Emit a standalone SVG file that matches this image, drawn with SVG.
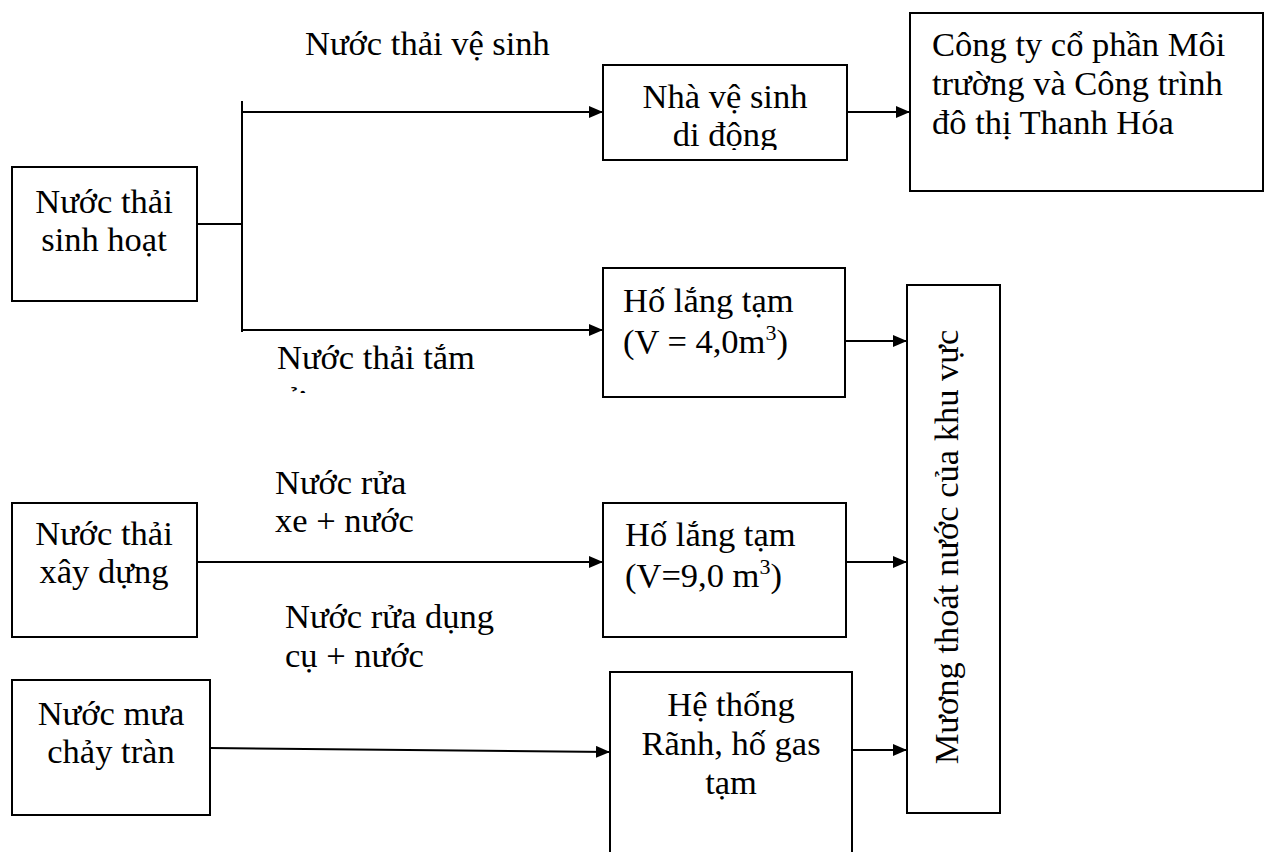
<svg xmlns="http://www.w3.org/2000/svg" width="1265" height="852" viewBox="0 0 1265 852">
<style>
.box{fill:#fff;stroke:#000;stroke-width:2}
.ln{fill:none;stroke:#000;stroke-width:2}
.ar{fill:none;stroke:#000;stroke-width:2;marker-end:url(#ah)}
text{font-family:"Liberation Serif","Times New Roman",serif;font-size:34.5px;fill:#000}
.c{text-anchor:middle}
.sup{font-size:22px}
</style>
<defs>
<marker id="ah" viewBox="0 0 14 12" refX="14" refY="6" markerWidth="14" markerHeight="12" markerUnits="userSpaceOnUse" orient="auto">
<path d="M0,0 L14,6 L0,12 z" fill="#000"/>
</marker>
<clipPath id="clipNVS"><rect x="600" y="60" width="250" height="90"/></clipPath>
<clipPath id="clipTam"><rect x="260" y="330" width="300" height="63"/></clipPath>
</defs>
<rect width="1265" height="852" fill="#fff"/>

<g id="connectors">
<line class="ln" x1="197" y1="224" x2="242" y2="224"/>
<line class="ln" x1="242" y1="101" x2="242" y2="332"/>
<line class="ar" x1="243" y1="112" x2="603" y2="112"/>
<line class="ar" x1="243" y1="330" x2="603" y2="330"/>
<line class="ar" x1="847" y1="112" x2="910" y2="112"/>
<line class="ar" x1="845" y1="341" x2="907" y2="341"/>
<line class="ar" x1="197" y1="562" x2="603" y2="562"/>
<line class="ar" x1="846" y1="562" x2="907" y2="562"/>
<line class="ar" x1="210" y1="748" x2="610" y2="752"/>
<line class="ar" x1="852" y1="750" x2="907" y2="750"/>
</g>

<g id="label-ve-sinh"><text x="305" y="55">Nước thải vệ sinh</text></g>
<g id="label-tam" clip-path="url(#clipTam)"><text x="277" y="369">Nước thải tắm</text><text x="274" y="410">rửa</text></g>
<g id="label-rua-xe"><text x="275" y="494">Nước rửa</text><text x="275" y="532">xe + nước</text></g>
<g id="label-dung-cu"><text x="285" y="628">Nước rửa dụng</text><text x="285" y="667">cụ + nước</text></g>

<g id="n-sinh-hoat">
<rect class="box" x="12" y="167" width="185" height="134"/>
<text class="c" x="104" y="213">Nước thải</text>
<text class="c" x="104" y="251">sinh hoạt</text>
</g>

<g id="n-nha-ve-sinh">
<rect class="box" x="603" y="65" width="244" height="95"/>
<g clip-path="url(#clipNVS)">
<text class="c" x="725" y="108">Nhà vệ sinh</text>
<text class="c" x="725" y="146">di động</text>
</g>
</g>

<g id="n-cong-ty">
<rect class="box" x="910" y="13" width="353" height="178"/>
<text x="932" y="56">Công ty cổ phần Môi</text>
<text x="932" y="95">trường và Công trình</text>
<text x="932" y="134">đô thị Thanh Hóa</text>
</g>

<g id="n-ho-lang-1">
<rect class="box" x="603" y="268" width="242" height="129"/>
<text x="623" y="312">Hố lắng tạm</text>
<text x="623" y="353">(V = 4,0m<tspan class="sup" dy="-13">3</tspan><tspan dy="13">)</tspan></text>
</g>

<g id="n-muong">
<rect class="box" x="907" y="285" width="93" height="528"/>
<text class="c" transform="translate(958,547) rotate(-90)">Mương thoát nước của khu vực</text>
</g>

<g id="n-xay-dung">
<rect class="box" x="12" y="503" width="185" height="134"/>
<text class="c" x="104" y="545">Nước thải</text>
<text class="c" x="104" y="583">xây dựng</text>
</g>

<g id="n-ho-lang-2">
<rect class="box" x="603" y="503" width="243" height="134"/>
<text x="625" y="546">Hố lắng tạm</text>
<text x="625" y="587">(V=9,0 m<tspan class="sup" dy="-13">3</tspan><tspan dy="13">)</tspan></text>
</g>

<g id="n-nuoc-mua">
<rect class="box" x="12" y="680" width="198" height="135"/>
<text class="c" x="111" y="725">Nước mưa</text>
<text class="c" x="111" y="763">chảy tràn</text>
</g>

<g id="n-he-thong">
<rect class="box" x="610" y="672" width="242" height="200"/>
<text class="c" x="731" y="716">Hệ thống</text>
<text class="c" x="731" y="755">Rãnh, hố gas</text>
<text class="c" x="731" y="794">tạm</text>
</g>
</svg>
